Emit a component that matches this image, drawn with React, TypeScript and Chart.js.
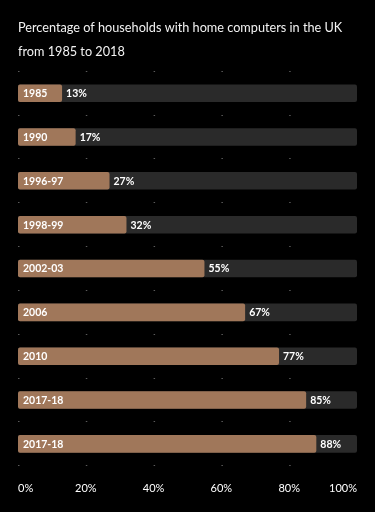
import React, { useEffect, useRef } from "react";
import { Chart, registerables } from "chart.js";

Chart.register(...registerables);

const periods = ["1985", "1990", "1996-97", "1998-99", "2002-03", "2006", "2010", "2017-18", "2017-18"];
const shares = [13, 17, 27, 32, 55, 67, 77, 85, 88];
const fullTrack = [100, 100, 100, 100, 100, 100, 100, 100, 100];
const titleLines = ["Percentage of households with home computers in the UK", "from 1985 to 2018"];

const FONT = "Lato, 'Open Sans', sans-serif";

const labelPlugin = {
  id: "barLabels",
  afterDatasetsDraw(chart: any) {
    const ctx = chart.ctx;
    const meta = chart.getDatasetMeta(0);
    ctx.save();
    ctx.textBaseline = "middle";
    meta.data.forEach((bar: any, i: number) => {
      const left = bar.base;
      const right = bar.x;
      ctx.fillStyle = "#ffffff";
      ctx.font = `bold 10.5px ${FONT}`;
      ctx.textAlign = "left";
      ctx.fillText(periods[i], left + 5, bar.y + 0.5);
      ctx.fillText(`${shares[i]}%`, right + 4, bar.y + 0.5);
    });
    ctx.restore();
  },
};

export default function App() {
  const ref = useRef<HTMLCanvasElement | null>(null);
  useEffect(() => {
    document.body.style.margin = "0";
    document.body.style.background = "#000";
    const chart = new Chart(ref.current as HTMLCanvasElement, {
      type: "bar",
      data: {
        labels: periods,
        datasets: [
          {
            data: shares,
            backgroundColor: "#a0775a",
            borderRadius: 2,
            borderSkipped: false,
            barPercentage: 0.4,
            categoryPercentage: 1,
            grouped: false,
          },
          {
            data: fullTrack,
            backgroundColor: "#2a2a2a",
            borderRadius: 2,
            borderSkipped: false,
            barPercentage: 0.4,
            categoryPercentage: 1,
            grouped: false,
          },
        ],
      },
      options: {
        indexAxis: "y",
        animation: false,
        responsive: false,
        maintainAspectRatio: false,
        layout: { padding: { left: 18, right: 18, top: 0, bottom: 1 } },
        plugins: {
          legend: { display: false },
          tooltip: { enabled: false },
          title: {
            display: true,
            text: titleLines,
            align: "start",
            color: "#f2f2f2",
            font: { family: FONT, size: 12.7, weight: "normal", lineHeight: 1.9 },
            padding: { top: 16, bottom: 7 },
          },
        },
        scales: {
          x: {
            min: 0,
            max: 100,
            ticks: {
              stepSize: 20,
              align: "inner",
              color: "#ffffff",
              padding: 16,
              font: { family: FONT, size: 11 },
              callback: (v: any) => `${v}%`,
            },
            grid: { display: false, drawTicks: false },
            border: { display: false },
          },
          y: {
            ticks: { display: false },
            grid: { color: "#5a5a5a", lineWidth: 1, drawTicks: false, offset: true },
            border: { display: false, dash: [1.5, 66.3] },
          },
        },
      },
      plugins: [labelPlugin],
    });
    return () => chart.destroy();
  }, []);
  return (
    <div style={{ width: 375, height: 512, background: "#000" }}>
      <canvas ref={ref} width={375} height={512} style={{ display: "block" }} />
    </div>
  );
}
